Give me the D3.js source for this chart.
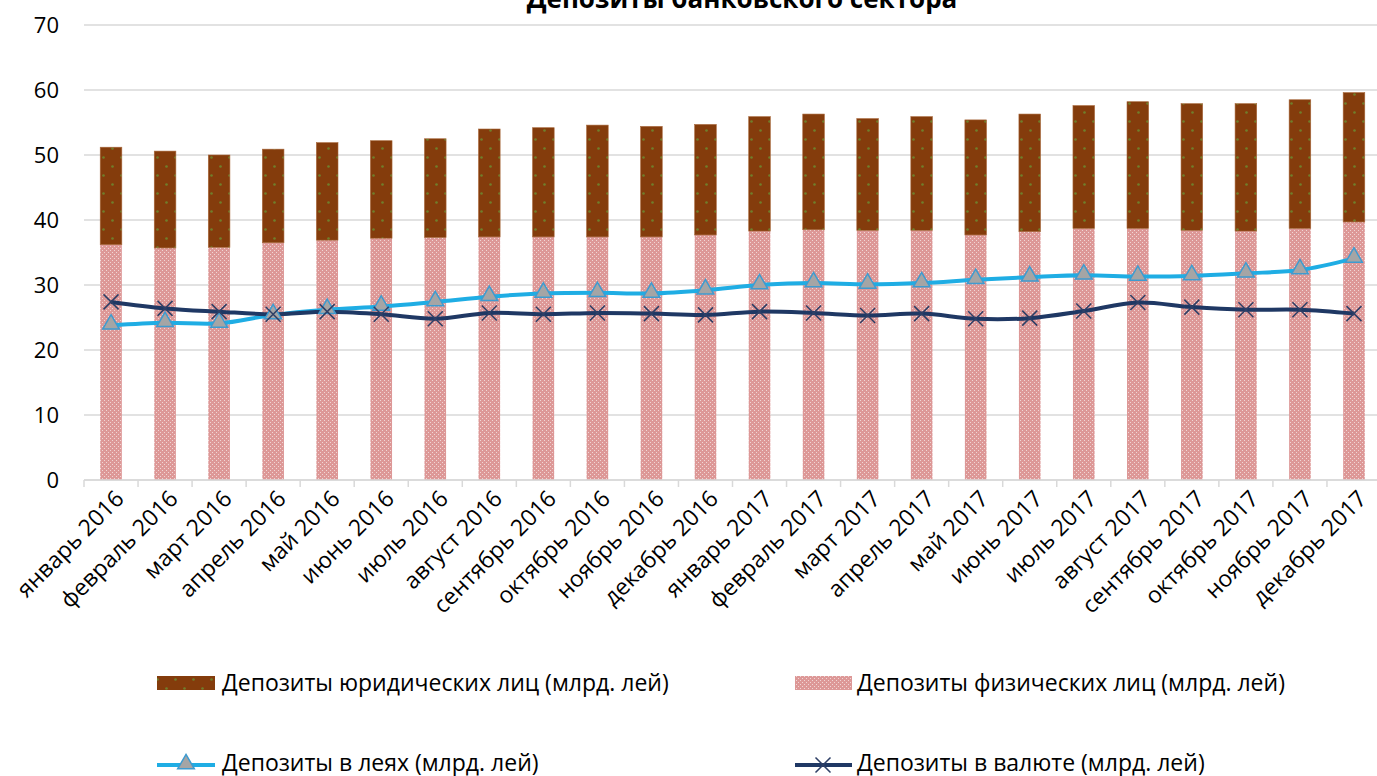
<!DOCTYPE html>
<html><head><meta charset="utf-8">
<script src="https://cdn.jsdelivr.net/npm/d3@7"></script>
<style>
html,body{margin:0;padding:0;background:#fff;overflow:hidden}
text{font-family:"Open Sans",sans-serif;fill:#000}
</style></head><body>
<svg id="chart" width="1377" height="776"></svg>
<script>
const categories = ["январь 2016","февраль 2016","март 2016","апрель 2016","май 2016","июнь 2016","июль 2016","август 2016","сентябрь 2016","октябрь 2016","ноябрь 2016","декабрь 2016","январь 2017","февраль 2017","март 2017","апрель 2017","май 2017","июнь 2017","июль 2017","август 2017","сентябрь 2017","октябрь 2017","ноябрь 2017","декабрь 2017"];
const physical = [36.2,35.7,35.8,36.5,36.9,37.2,37.3,37.4,37.4,37.4,37.4,37.7,38.3,38.5,38.4,38.4,37.7,38.2,38.7,38.7,38.4,38.3,38.7,39.7];
const legal = [15.0,14.9,14.2,14.4,15.0,15.0,15.2,16.6,16.8,17.2,17.0,17.0,17.6,17.8,17.2,17.5,17.7,18.1,18.9,19.5,19.5,19.6,19.8,19.9];
const lei = [23.8,24.2,24.1,25.4,26.2,26.7,27.4,28.2,28.7,28.8,28.7,29.2,30.0,30.3,30.1,30.3,30.8,31.2,31.5,31.3,31.4,31.8,32.3,34.1];
const currency = [27.4,26.4,25.9,25.5,25.9,25.5,24.8,25.7,25.5,25.7,25.6,25.4,25.9,25.7,25.3,25.6,24.8,24.9,26.0,27.3,26.6,26.2,26.2,25.6];
const yTicks = [0,10,20,30,40,50,60,70];
const title = "Депозиты банковского сектора";
const seriesNames = ["Депозиты юридических лиц (млрд. лей)","Депозиты физических лиц (млрд. лей)","Депозиты в леях (млрд. лей)","Депозиты в валюте (млрд. лей)"];

const svg = d3.select("#chart");
const defs = svg.append("defs");
const pb = defs.append("pattern").attr("id","pBrown").attr("patternUnits","userSpaceOnUse").attr("width",18).attr("height",18);
pb.append("rect").attr("width",18).attr("height",18).attr("fill","#843C0C");
pb.append("circle").attr("cx",4.5).attr("cy",4.5).attr("r",1.3).attr("fill","#6F7F2A");
pb.append("circle").attr("cx",13.5).attr("cy",13.5).attr("r",1.3).attr("fill","#6F7F2A");
const pp = defs.append("pattern").attr("id","pPink").attr("patternUnits","userSpaceOnUse").attr("width",4).attr("height",4);
pp.append("rect").attr("width",4).attr("height",4).attr("fill","#DD9897");
pp.append("rect").attr("x",0).attr("y",0).attr("width",1).attr("height",1).attr("fill","#fff").attr("opacity",0.6);
pp.append("rect").attr("x",2).attr("y",2).attr("width",1).attr("height",1).attr("fill","#fff").attr("opacity",0.6);

const x = d3.scaleBand().domain(categories).range([84,1381]).paddingInner(0.6).paddingOuter(0.3);
const y = d3.scaleLinear().domain([0,70]).range([480,25]);

svg.append("g").selectAll("line").data(yTicks).join("line")
  .attr("x1",84).attr("x2",1381).attr("y1",d=>y(d)).attr("y2",d=>y(d))
  .attr("stroke","#d9d9d9").attr("stroke-width",1.5);

const yAxis = d3.axisLeft(y).tickValues(yTicks).tickSize(0).tickPadding(0);
const gy = svg.append("g").attr("transform","translate(59,0)").call(yAxis);
gy.select(".domain").remove();
gy.selectAll("text").attr("font-size",22).attr("font-family","Open Sans").attr("fill","#000").attr("dy","0.35em");

const stack = categories.map((c,i)=>({c, p:physical[i], l:legal[i]}));
svg.append("g").selectAll("rect").data(stack).join("rect")
  .attr("x",d=>x(d.c)).attr("width",x.bandwidth())
  .attr("y",d=>y(d.p)).attr("height",d=>y(0)-y(d.p))
  .attr("fill","url(#pPink)");
svg.append("g").selectAll("rect").data(stack).join("rect")
  .attr("x",d=>x(d.c)).attr("width",x.bandwidth())
  .attr("y",d=>y(d.p+d.l)).attr("height",d=>y(d.p)-y(d.p+d.l))
  .attr("fill","url(#pBrown)").attr("stroke","#a8673a").attr("stroke-width",0.6);

const boundaries = d3.range(categories.length+1).map(i=>84 + i*x.step());
svg.append("line").attr("x1",84).attr("x2",1381).attr("y1",480).attr("y2",480).attr("stroke","#d9d9d9").attr("stroke-width",1.5);
svg.append("g").selectAll("line").data(boundaries).join("line")
  .attr("x1",d=>d).attr("x2",d=>d).attr("y1",480).attr("y2",487).attr("stroke","#d9d9d9").attr("stroke-width",1.5);
const cx = c => x(c)+x.bandwidth()/2;
svg.append("g").selectAll("text").data(categories).join("text")
  .attr("transform",d=>`translate(${cx(d)+2},${488}) rotate(-45)`)
  .attr("text-anchor","end").attr("dy","0.75em").attr("font-size",23).text(d=>d);

const line = d3.line().x(d=>d[0]).y(d=>d[1]).curve(d3.curveCatmullRom.alpha(0.5));
const leiPts = categories.map((c,i)=>[cx(c),y(lei[i])]);
const curPts = categories.map((c,i)=>[cx(c),y(currency[i])]);
svg.append("path").attr("d",line(leiPts)).attr("fill","none").attr("stroke","#1FADE4").attr("stroke-width",4);
svg.append("path").attr("d",line(curPts)).attr("fill","none").attr("stroke","#1F3864").attr("stroke-width",4);
const tri = d3.symbol().type(d3.symbolTriangle).size(120);
svg.append("g").selectAll("path").data(leiPts).join("path")
  .attr("transform",d=>`translate(${d[0]},${d[1]-1})`).attr("d",tri())
  .attr("fill","#A5A5A5").attr("stroke","#3E9BD0").attr("stroke-width",1.5);
const xs = 7.5;
const xg = svg.append("g").selectAll("g").data(curPts).join("g").attr("transform",d=>`translate(${d[0]},${d[1]})`);
xg.append("path").attr("d",`M${-xs},${-xs}L${xs},${xs}M${-xs},${xs}L${xs},${-xs}`).attr("stroke","#2E3F66").attr("stroke-width",1.5).attr("fill","none");

svg.append("text").attr("x",742).attr("y",8).attr("text-anchor","middle").attr("font-size",26).attr("font-weight","bold").text(title);

const lg = svg.append("g");
lg.append("rect").attr("x",157).attr("y",676).attr("width",58).attr("height",14).attr("fill","url(#pBrown)");
lg.append("rect").attr("x",795).attr("y",676).attr("width",57).attr("height",14).attr("fill","url(#pPink)");
lg.append("line").attr("x1",157).attr("x2",215).attr("y1",765).attr("y2",765).attr("stroke","#1FADE4").attr("stroke-width",4);
lg.append("path").attr("transform","translate(186,764)").attr("d",tri()).attr("fill","#A5A5A5").attr("stroke","#3E9BD0").attr("stroke-width",1.5);
lg.append("line").attr("x1",795).attr("x2",852).attr("y1",765).attr("y2",765).attr("stroke","#1F3864").attr("stroke-width",4);
lg.append("path").attr("transform","translate(823,765)").attr("d",`M${-xs},${-xs}L${xs},${xs}M${-xs},${xs}L${xs},${-xs}`).attr("stroke","#2E3F66").attr("stroke-width",1.5);
const legPos = [[222,683],[857,683],[222,763],[857,763]];
lg.selectAll("text").data(seriesNames).join("text")
  .attr("x",(d,i)=>legPos[i][0]).attr("y",(d,i)=>legPos[i][1]).attr("dy","0.35em").attr("font-size",23).text(d=>d);
</script></body></html>
